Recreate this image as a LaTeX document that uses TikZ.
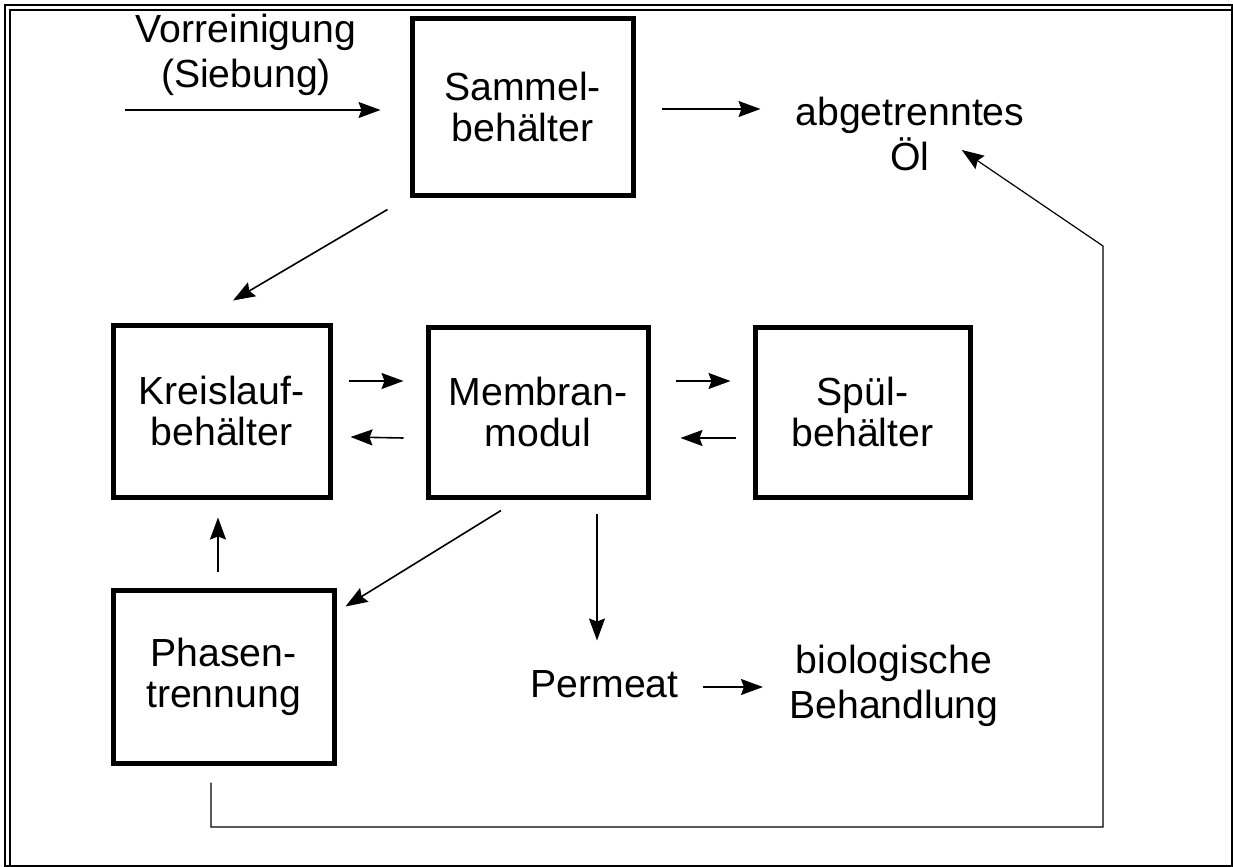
\documentclass[tikz,border=0pt]{standalone}
\usepackage{fontspec}
\setmainfont{Liberation Sans}
\usetikzlibrary{arrows.meta}

\tikzset{
  box/.style={draw, line width=2.5pt, align=center, inner sep=0pt,
              font=\fontsize{19.6}{20.5}\selectfont},
  label/.style={align=center, inner sep=0pt,
              font=\fontsize{19.6}{22.5}\selectfont},
  arr/.style={line width=0.8pt, -{Stealth[length=11pt,width=8pt,inset=1.5pt]}},
  frame/.style={line width=1pt}
}

\begin{document}
\begin{tikzpicture}[x=0.5pt,y=-0.5pt]
\useasboundingbox (0,0) rectangle (1233,867);

% double page frame
\draw[frame] (5,5) rectangle (1231.5,865.5);
\draw[frame] (9.5,865.5) -- (9.5,9.5) -- (1231.5,9.5);

% process units
\node[box, minimum width=110.5pt, minimum height=88.5pt] (sammel)  at (522.5,106.5) {Sammel-\\behälter};
\node[box, minimum width=108.5pt, minimum height=86pt]   (kreis)   at (221.5,411)   {Kreislauf-\\behälter};
\node[box, minimum width=110pt,   minimum height=85pt]   (membran) at (538,412)     {Membran-\\modul};
\node[box, minimum width=107.5pt, minimum height=85pt]   (spuel)   at (862.5,412)   {Spül-\\behälter};
\node[box, minimum width=110.5pt, minimum height=86.5pt] (phasen)  at (223.5,676.5) {Phasen-\\trennung};

% inputs and outputs
\node[label] (vorr)    at (246,55)    {Vorreinigung\\(Siebung)};
\node[label] (abg)     at (910,134)   {abgetrenntes\\Öl};
\node[label] (permeat) at (604.5,684) {Permeat};
\node[label] (bio)     at (894,686)   {biologische\\Behandlung};

% feed
\coordinate (feed) at (125,110);
\draw[arr, shorten >=14.5pt] (feed) -- (feed -| sammel.west);

% oil off-take from the collecting tank
\draw[arr] ([shift={(26,2.5)}]sammel.east) -- ++(99,0);

% collecting tank to circulation tank
\draw[arr] ([shift={(-22,12)}]sammel.south west) -- ([shift={(11.5,-22)}]kreis.north);

% circulation loop
\draw[arr] ([shift={(16,-30)}]kreis.east) -- ([shift={(-22,-31)}]membran.west);
\draw[arr] ([shift={(-22,26)}]membran.west) -- ([shift={(18,26)}]kreis.east);
\draw[arr] ([shift={(25,-31)}]membran.east) -- ([shift={(-22,-31)}]spuel.west);
\draw[arr] ([shift={(-17,26)}]spuel.west) -- ([shift={(30,26)}]membran.east);

% membrane outlets
\draw[arr] ([shift={(-37,11)}]membran.south) -- ([shift={(9,19)}]phasen.north east);
\draw[arr] ([shift={(59,14)}]membran.south) -- ++(0,127);
\draw[arr] ([shift={(24,3)}]permeat.east) -- ++(60,0);

% phase separation back to circulation
\draw[arr] ([shift={(-5.5,-16)}]phasen.north) -- ([shift={(-3.5,18)}]kreis.south);

% separated oil return
\coordinate (r1) at (1103,827);
\coordinate (r2) at (1103,246);
\draw[arr, line width=0.6pt] ([shift={(-12.5,17)}]phasen.south) |- (r1) -- (r2) -- ([shift={(-63,16)}]abg.east);
\end{tikzpicture}
\end{document}
